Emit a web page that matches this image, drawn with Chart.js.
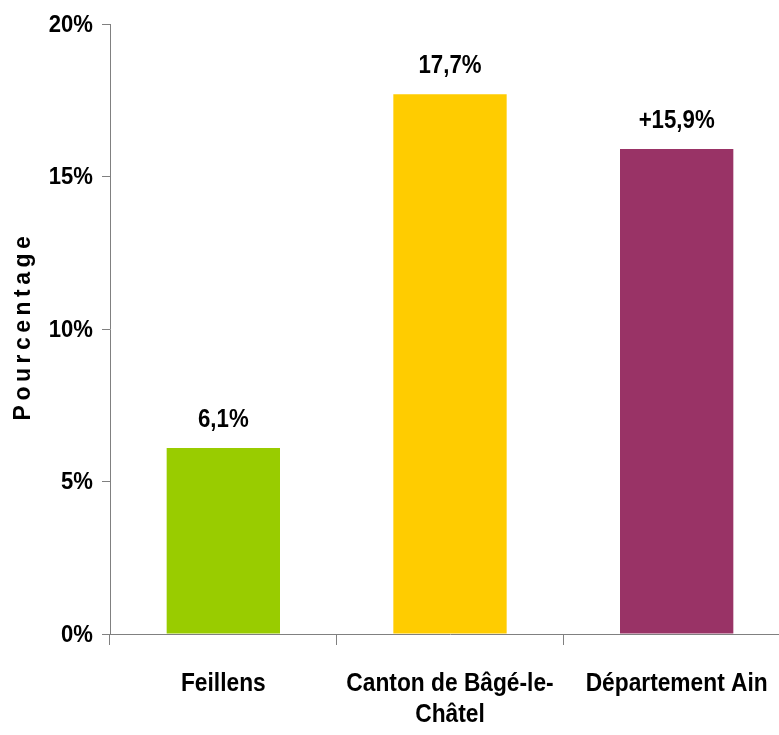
<!DOCTYPE html>
<html>
<head>
<meta charset="utf-8">
<script src="https://cdn.jsdelivr.net/npm/chart.js@4/dist/chart.umd.min.js"></script>
<style>
  html, body { margin: 0; padding: 0; background: #fff; overflow: hidden; }
  #wrap { width: 800px; height: 735px; }
</style>
</head>
<body>
<div id="wrap"><canvas id="chart" width="800" height="735"></canvas></div>
<script>
  // data
  const categories = ['Feillens', ['Canton de Bâgé-le-', 'Châtel'], 'Département Ain'];
  const values = [6.1, 17.7, 15.9];
  const valueLabels = ['6,1%', '17,7%', '+15,9%'];
  const barColors = ['#99cc00', '#ffcc00', '#993366'];
  const yTicks = [0, 5, 10, 15, 20];
  const yTitle = 'Pourcentage';

  const FONT = "'Liberation Sans', Arial, sans-serif";
  const AXIS_GREY = '#808080';

  // narrow-looking text: squeeze Liberation Sans horizontally
  function narrowText(ctx, text, x, y, squeeze, align) {
    ctx.save();
    ctx.translate(x, y);
    ctx.scale(squeeze, 1);
    ctx.textAlign = align;
    ctx.fillText(text, 0, 0);
    ctx.restore();
  }

  const narrowLabels = {
    id: 'narrowLabels',
    afterDraw(chart) {
      const ctx = chart.ctx;
      const xs = chart.scales.x;
      const ys = chart.scales.y;
      ctx.save();
      ctx.fillStyle = '#000';

      // y tick labels
      ctx.font = 'bold 24px ' + FONT;
      ctx.textBaseline = 'middle';
      yTicks.forEach(v => {
        narrowText(ctx, v + '%', ys.right - 17, ys.getPixelForValue(v) + 1, 0.92, 'right');
      });

      // category labels
      ctx.font = 'bold 25px ' + FONT;
      ctx.textBaseline = 'alphabetic';
      categories.forEach((c, i) => {
        const lines = Array.isArray(c) ? c : [c];
        const cx = xs.getPixelForValue(i);
        lines.forEach((line, k) => {
          narrowText(ctx, line, cx, xs.top + 57 + k * 31, 0.91, 'center');
        });
      });

      // value labels above bars
      ctx.font = 'bold 25px ' + FONT;
      const meta = chart.getDatasetMeta(0);
      meta.data.forEach((bar, i) => {
        narrowText(ctx, valueLabels[i], bar.x, bar.y - 21, 0.89, 'center');
      });

      // rotated, letter-spaced y axis title
      ctx.translate(24, 328);
      ctx.rotate(-Math.PI / 2);
      ctx.font = 'bold 23px ' + FONT;
      if ('letterSpacing' in ctx) ctx.letterSpacing = '4.5px';
      ctx.textAlign = 'center';
      ctx.textBaseline = 'middle';
      ctx.fillText(yTitle, 2, 0);
      ctx.restore();
    }
  };

  new Chart(document.getElementById('chart'), {
    type: 'bar',
    data: {
      labels: categories,
      datasets: [{
        data: values,
        backgroundColor: barColors,
        borderWidth: 0,
        barPercentage: 0.5,
        categoryPercentage: 1.0
      }]
    },
    options: {
      responsive: false,
      animation: false,
      layout: { padding: { top: 24, right: 10, left: 0, bottom: 0 } },
      plugins: {
        legend: { display: false },
        tooltip: { enabled: false }
      },
      scales: {
        x: {
          grid: {
            display: true,
            drawOnChartArea: false,
            drawTicks: true,
            tickLength: 11,
            color: AXIS_GREY,
            offset: true
          },
          border: { display: true, color: AXIS_GREY, width: 1 },
          ticks: { display: false },
          afterFit(scale) { scale.height = 101; }
        },
        y: {
          min: 0,
          max: 20,
          afterBuildTicks(scale) {
            scale.ticks = yTicks.map(v => ({ value: v }));
          },
          grid: {
            display: true,
            drawOnChartArea: false,
            drawTicks: true,
            tickLength: 8,
            color: AXIS_GREY
          },
          border: { display: true, color: AXIS_GREY, width: 1 },
          ticks: { display: false },
          afterFit(scale) { scale.width = 110; }
        }
      }
    },
    plugins: [narrowLabels]
  });
</script>
</body>
</html>
